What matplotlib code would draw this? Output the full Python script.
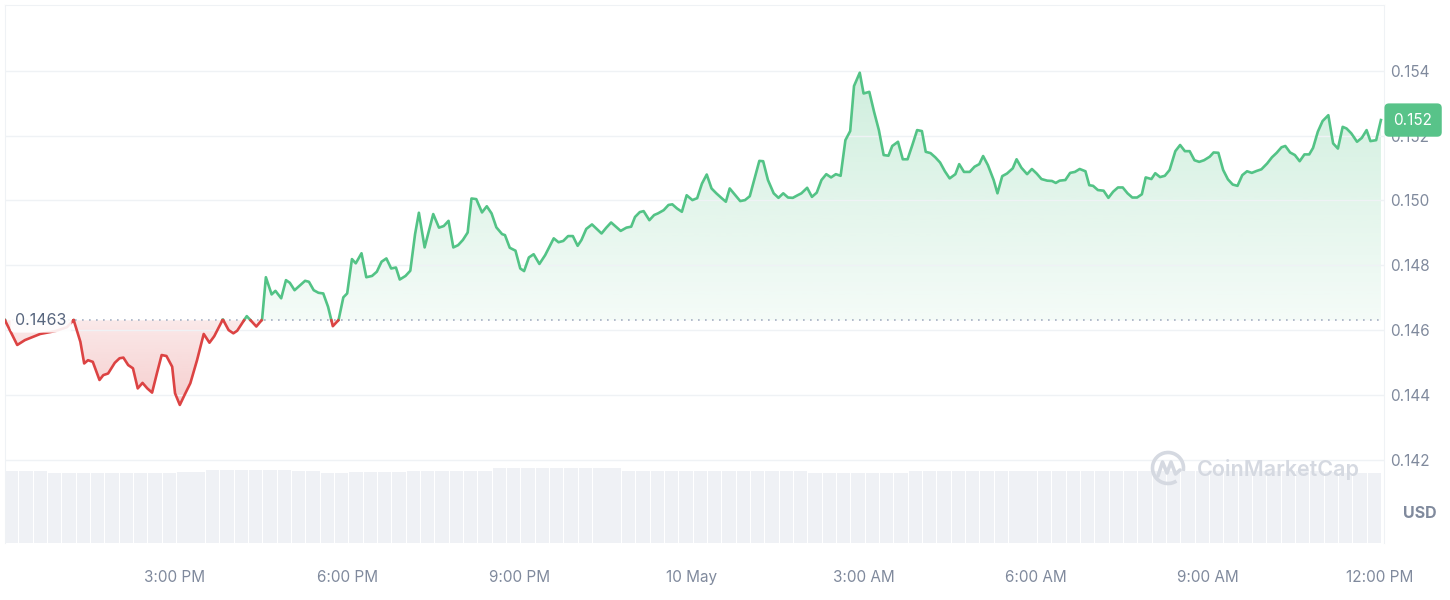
import numpy as np
import matplotlib.pyplot as plt
from matplotlib.path import Path
from matplotlib.colors import to_rgb
from matplotlib.patches import Arc
from matplotlib.lines import Line2D
from matplotlib.transforms import blended_transform_factory

plt.rcParams['font.family'] = ['Inter', 'DejaVu Sans']

# minutes after 12:00 PM, 9 May
minutes = [2, 15, 23, 39, 55, 67, 74, 81, 85, 89, 94, 101, 105, 110, 117, 122, 126, 131, 136, 141,
           146, 151, 156, 161, 166, 171, 177, 180, 185, 190, 196, 203, 210, 216, 221, 230, 236, 241, 245, 255,
           265, 271, 275, 281, 285, 291, 296, 300, 305, 316, 320, 325, 330, 335, 340, 345, 351, 356, 360, 365,
           369, 375, 380, 386, 391, 396, 401, 406, 411, 415, 421, 426, 431, 435,
           441, 450, 456, 461, 466, 471, 476, 481, 486, 490, 495, 501, 506, 511, 516, 522, 525, 530, 536, 541,
           545, 550, 555, 561, 567, 576, 581, 586, 591, 596, 601, 605, 610, 616, 621, 626, 631, 636, 641, 646,
           652, 657, 661, 666, 670, 676, 681, 685, 691, 696, 700, 705, 710, 715, 721, 726, 731, 736, 741, 746,
           752, 756, 760, 766, 771, 776, 781, 786, 791, 795, 800, 806, 811, 816, 821, 826, 831, 835, 841, 846,
           851, 856, 861, 866, 871, 876, 881, 886, 890, 896, 900, 906, 911, 916, 921, 926, 930, 936, 941, 946,
           951, 956, 961, 965, 970, 975, 980, 985, 990, 996, 1000, 1005, 1011, 1016, 1021, 1025, 1030, 1036, 1040, 1045,
           1050, 1056, 1060, 1065, 1071, 1076, 1081, 1086, 1092, 1097, 1101, 1105, 1111, 1116, 1121, 1126, 1132, 1136, 1140, 1145,
           1151, 1156, 1161, 1166, 1171, 1176, 1181, 1186, 1191, 1195, 1201, 1205, 1210, 1215, 1220, 1226, 1231, 1236, 1241, 1246,
           1251, 1256, 1262, 1266, 1271, 1276, 1281, 1286, 1291, 1296, 1301, 1306, 1311, 1316, 1322, 1327, 1332, 1337, 1341, 1346,
           1351, 1356, 1361, 1366, 1370, 1375, 1380, 1386, 1391, 1396, 1401, 1405, 1410, 1416, 1421, 1426, 1430, 1436, 1441]

prices = [0.14631, 0.14554, 0.14569, 0.14588, 0.14597, 0.14609, 0.14631, 0.14564, 0.14497, 0.14507,
          0.14502, 0.14446, 0.14461, 0.14466, 0.14499, 0.14513, 0.14515, 0.14492, 0.14482, 0.14420,
          0.14437, 0.14420, 0.14407, 0.14466, 0.14523, 0.14520, 0.14487, 0.14405, 0.14369, 0.14400,
          0.14436, 0.14507, 0.14588, 0.14561, 0.14581, 0.14633, 0.14600, 0.14590, 0.14598, 0.14643,
          0.14611, 0.14632, 0.14763, 0.14710, 0.14721, 0.14698, 0.14754, 0.14746, 0.14723, 0.14752,
          0.14749, 0.14723, 0.14715, 0.14713, 0.14672, 0.14612, 0.14631, 0.14701, 0.14713, 0.14819,
          0.14806, 0.14837, 0.14763, 0.14767, 0.14780, 0.14811, 0.14821, 0.14790, 0.14793, 0.14756,
          0.14767, 0.14783, 0.14896, 0.14962, 0.14855, 0.14958, 0.14916, 0.14921, 0.14937, 0.14855,
          0.14862, 0.14878, 0.14901, 0.15006, 0.15004, 0.14963, 0.14982, 0.14960, 0.14917, 0.14896,
          0.14893, 0.14854, 0.14845, 0.14790, 0.14782, 0.14824, 0.14834, 0.14804, 0.14831, 0.14883,
          0.14871, 0.14875, 0.14890, 0.14890, 0.14860, 0.14878, 0.14912, 0.14926, 0.14912, 0.14898,
          0.14916, 0.14932, 0.14919, 0.14906, 0.14916, 0.14919, 0.14949, 0.14964, 0.14967, 0.14939,
          0.14955, 0.14960, 0.14970, 0.14986, 0.14988, 0.14975, 0.14965, 0.15016, 0.15001, 0.15007,
          0.15052, 0.15080, 0.15037, 0.15022, 0.15006, 0.14996, 0.15037, 0.15016, 0.14998, 0.15001,
          0.15013, 0.15068, 0.15122, 0.15121, 0.15063, 0.15022, 0.15008, 0.15022, 0.15009, 0.15008,
          0.15016, 0.15022, 0.15039, 0.15011, 0.15024, 0.15063, 0.15081, 0.15071, 0.15081, 0.15076,
          0.15186, 0.15214, 0.15353, 0.15394, 0.15330, 0.15335, 0.15273, 0.15217, 0.15140, 0.15138,
          0.15168, 0.15181, 0.15127, 0.15127, 0.15171, 0.15217, 0.15214, 0.15150, 0.15146, 0.15133,
          0.15117, 0.15090, 0.15068, 0.15081, 0.15112, 0.15088, 0.15088, 0.15104, 0.15112, 0.15137,
          0.15109, 0.15063, 0.15022, 0.15075, 0.15083, 0.15099, 0.15127, 0.15101, 0.15081, 0.15097,
          0.15083, 0.15066, 0.15061, 0.15060, 0.15054, 0.15061, 0.15063, 0.15085, 0.15088, 0.15097,
          0.15090, 0.15047, 0.15045, 0.15032, 0.15030, 0.15008, 0.15027, 0.15040, 0.15040, 0.15022,
          0.15009, 0.15009, 0.15019, 0.15071, 0.15066, 0.15084, 0.15072, 0.15076, 0.15094, 0.15152,
          0.15171, 0.15152, 0.15152, 0.15124, 0.15119, 0.15124, 0.15135, 0.15148, 0.15147, 0.15094,
          0.15065, 0.15049, 0.15045, 0.15078, 0.15090, 0.15085, 0.15091, 0.15096, 0.15114, 0.15133,
          0.15147, 0.15164, 0.15168, 0.15148, 0.15140, 0.15121, 0.15142, 0.15142, 0.15162, 0.15212,
          0.15245, 0.15263, 0.15176, 0.15160, 0.15227, 0.15222, 0.15207, 0.15181, 0.15193, 0.15217,
          0.15183, 0.15186, 0.15248]

# volume per 15 minutes (relative units)
volume = [7.2, 7.2, 7.2, 7.0, 7.0, 7.0, 7.0, 7.0, 7.0, 7.0, 7.0, 7.0,
          7.15, 7.15, 7.3, 7.3, 7.3, 7.3, 7.3, 7.35, 7.2, 7.2, 7.05, 7.05,
          7.15, 7.15, 7.15, 7.15, 7.2, 7.2, 7.2, 7.2, 7.2, 7.2, 7.5, 7.5,
          7.5, 7.5, 7.5, 7.5, 7.5, 7.5, 7.5, 7.2, 7.2, 7.2, 7.2, 7.2,
          7.2, 7.2, 7.2, 7.2, 7.2, 7.2, 7.2, 7.2, 7.05, 7.05, 7.05, 7.05,
          7.05, 7.05, 7.05, 7.2, 7.2, 7.2, 7.2, 7.2, 7.2, 7.2, 7.2, 7.2,
          7.2, 7.2, 7.2, 7.2, 7.2, 7.2, 7.2, 7.2, 7.2, 7.2, 7.2, 7.2,
          7.2, 7.2, 7.2, 7.2, 7.2, 7.2, 7.2, 7.2, 7.1, 7.0, 7.0, 7.0]

tick_minutes = [180, 360, 540, 720, 900, 1080, 1260, 1440]
tick_labels = ['3:00 PM', '6:00 PM', '9:00 PM', '10 May', '3:00 AM', '6:00 AM', '9:00 AM', '12:00 PM']
price_ticks = [0.142, 0.144, 0.146, 0.148, 0.150, 0.152, 0.154]
base = 0.1463  # opening price

GREEN = '#53c386'
RED = '#dc4343'
GRID = '#eff2f5'
TXT = '#808a9d'
XMIN, XMAX = 2.2, 1444.2
YMIN, YMAX = 0.13943, 0.15603

t = np.array(minutes, float)
p = np.array(prices)

# add the points where the line crosses the baseline so colours switch cleanly
tt, pp = [t[0]], [p[0]]
for i in range(1, len(t)):
    a, b = p[i - 1] - base, p[i] - base
    if a * b < 0:
        f = a / (a - b)
        tt.append(t[i - 1] + f * (t[i] - t[i - 1]))
        pp.append(base)
    tt.append(t[i])
    pp.append(p[i])
tt, pp = np.array(tt), np.array(pp)

fig = plt.figure(figsize=(14.5, 6), dpi=100)
rect = [5/1450, 57/600, 1379/1450, 538/600]

# volume bars in the background
axv = fig.add_axes(rect, zorder=0)
vt = XMIN + 15 * np.arange(len(volume))
axv.bar(vt, volume, width=14, align='edge', color='#eff1f5', lw=0)
axv.set_xlim(XMIN, XMAX)
axv.set_ylim(0, 7.2 * 538 / 72)
axv.axis('off')

ax = fig.add_axes(rect, zorder=1)
ax.patch.set_visible(False)


def grad_fill(where, color, a_near, a_far, far):
    poly = ax.fill_between(tt, pp, base, where=where, interpolate=True,
                           facecolor='none', edgecolor='none')
    path = Path.make_compound_path(*poly.get_paths())
    ys = np.linspace(YMIN, YMAX, 400)
    alpha = a_near + (a_far - a_near) * np.clip((ys - base) / (far - base), 0, 1)
    img = np.zeros((400, 1, 4))
    img[..., :3] = to_rgb(color)
    img[:, 0, 3] = alpha
    im = ax.imshow(img, extent=[XMIN, XMAX, YMIN, YMAX], origin='lower',
                   aspect='auto', zorder=1, interpolation='bilinear')
    im.set_clip_path(path, ax.transData)


grad_fill(pp >= base, GREEN, 0.06, 0.28, 0.154)
grad_fill(pp <= base, RED, 0.12, 0.26, 0.1437)

ax.plot(tt, np.where(pp >= base, pp, np.nan), color=GREEN, lw=1.9, zorder=3)
ax.plot(tt, np.where(pp <= base, pp, np.nan), color=RED, lw=1.9, zorder=3)
ax.axhline(base, color='#a6b0c3', ls=(0, (1, 3.2)), lw=1.2, zorder=2)

ax.set_xlim(XMIN, XMAX)
ax.set_ylim(YMIN, YMAX)
ax.set_yticks(price_ticks)
ax.set_yticklabels([f'{v:.3f}' for v in price_ticks])
ax.yaxis.tick_right()
ax.set_xticks(tick_minutes)
ax.set_xticklabels(tick_labels)
ax.tick_params(axis='y', length=0, pad=4.5, labelsize=11, labelcolor=TXT)
ax.tick_params(axis='x', length=0, pad=19.5, labelsize=11, labelcolor=TXT)
ax.grid(axis='y', color=GRID, lw=1, zorder=0)
for side in ['left', 'right', 'top']:
    ax.spines[side].set_color(GRID)
ax.spines['bottom'].set_visible(False)

blend = blended_transform_factory(ax.transAxes, ax.transData)
ax.text(0.0075, base, f'{base:.4f}', transform=blend, ha='left', va='center',
        fontsize=11.5, color='#58667e', zorder=5,
        bbox=dict(boxstyle='round,pad=0.3', fc='white', ec='none', alpha=0.9))
ax.text(1.0211, p[-1], f'{p[-1]:.3f}', transform=blend, ha='center', va='center',
        fontsize=11, color='white', zorder=10, clip_on=False,
        bbox=dict(boxstyle='round,pad=0.6,rounding_size=0.3', fc='#58c389', ec='none'))

fig.text(1420/1450, 1 - 513/600, 'USD', ha='center', va='center',
         fontsize=11.5, weight='bold', color=TXT)

# watermark
WM = '#d5d9e1'
fig.text(1197/1450, 1 - 469/600, 'CoinMarketCap', ha='left', va='center',
         fontsize=15.5, weight='semibold', color=WM)
fig.patches.append(Arc((1168/1450, 1 - 468/600), 31/1450, 31/600, theta1=-25, theta2=285,
                       lw=2.6, color=WM, transform=fig.transFigure))
mx = np.array([1158, 1162.5, 1167, 1171, 1175.5, 1180]) / 1450
my = 1 - np.array([476, 462, 473, 462, 474, 470]) / 600
fig.lines.append(Line2D(mx, my, lw=2.6, color=WM, transform=fig.transFigure,
                        solid_joinstyle='round', solid_capstyle='round'))

fig.savefig('out.png')
